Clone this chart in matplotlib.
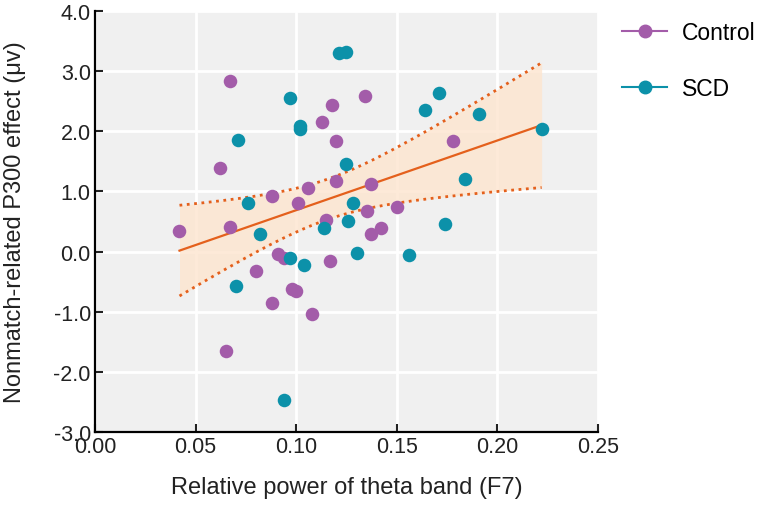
import numpy as np
import matplotlib.pyplot as plt
from matplotlib.lines import Line2D

# values
control_x = [0.042, 0.067, 0.062, 0.067, 0.088, 0.101, 0.106, 0.113, 0.118, 0.120,
             0.120, 0.115, 0.134, 0.178, 0.137, 0.135, 0.150, 0.142, 0.137, 0.117,
             0.091, 0.094, 0.080, 0.098, 0.100, 0.088, 0.108, 0.065]
control_y = [0.35, 2.84, 1.39, 0.41, 0.93, 0.81, 1.06, 2.16, 2.43, 1.84,
             1.17, 0.53, 2.58, 1.83, 1.13, 0.68, 0.74, 0.40, 0.30, -0.16,
             -0.04, -0.11, -0.32, -0.62, -0.66, -0.86, -1.03, -1.65]
scd_x = [0.1215, 0.125, 0.097, 0.102, 0.102, 0.071, 0.125, 0.076, 0.082, 0.114,
         0.128, 0.126, 0.130, 0.156, 0.171, 0.164, 0.191, 0.222, 0.184, 0.174,
         0.097, 0.104, 0.070, 0.094]
scd_y = [3.30, 3.31, 2.55, 2.09, 2.03, 1.85, 1.46, 0.81, 0.29, 0.39,
         0.80, 0.50, -0.02, -0.06, 2.64, 2.35, 2.29, 2.03, 1.21, 0.46,
         -0.10, -0.22, -0.58, -2.47]

xticks = [0.00, 0.05, 0.10, 0.15, 0.20, 0.25]
yticks = [-3.0, -2.0, -1.0, 0.0, 1.0, 2.0, 3.0, 4.0]

purple = '#a35ca9'
teal = '#0c91a9'
orange = '#e4601c'
text_col = '#222222'

# linear fit over both groups with 95% confidence band
x_all = np.array(control_x + scd_x)
y_all = np.array(control_y + scd_y)
n = len(x_all)
slope, intercept = np.polyfit(x_all, y_all, 1)
resid = y_all - (slope * x_all + intercept)
s_err = np.sqrt(np.sum(resid ** 2) / (n - 2))
xs = np.linspace(x_all.min(), x_all.max(), 200)
ys = slope * xs + intercept
t_val = 2.009  # t(0.975, n-2) for n=52
half = t_val * s_err * np.sqrt(1 / n + (xs - x_all.mean()) ** 2 / np.sum((x_all - x_all.mean()) ** 2))

plt.rcParams['font.family'] = ['Liberation Sans', 'DejaVu Sans']

fig = plt.figure(figsize=(7.68, 5.06), dpi=100)
ax = fig.add_axes([0.1237, 0.1443, 0.6549, 0.832])
ax.set_facecolor('#f0f0f0')

ax.fill_between(xs, ys - half, ys + half, color='#fde5cf', alpha=0.8, lw=0, zorder=1)
ax.plot(xs, ys + half, ':', color=orange, lw=2, zorder=2)
ax.plot(xs, ys - half, ':', color=orange, lw=2, zorder=2)
ax.plot(xs, ys, '-', color=orange, lw=1.6, zorder=2)

ax.scatter(control_x, control_y, s=95, color=purple, lw=0, zorder=3)
ax.scatter(scd_x, scd_y, s=95, color=teal, lw=0, zorder=3)

ax.set_xlim(0, 0.25)
ax.set_ylim(-3, 4)
ax.set_xticks(xticks)
ax.set_xticklabels(['%.2f' % v for v in xticks])
ax.set_yticks(yticks)
ax.set_yticklabels(['%.1f' % v for v in yticks])
ax.grid(True, color='white', lw=2)
ax.set_axisbelow(True)
for s in ['top', 'right']:
    ax.spines[s].set_visible(False)
for s in ['left', 'bottom']:
    ax.spines[s].set_linewidth(1.6)
ax.tick_params(direction='in', length=6, width=1.5, labelsize=15.5, colors=text_col)
ax.tick_params(axis='x', pad=3)
ax.tick_params(axis='y', pad=3)

ax.set_xlabel('Relative power of theta band (F7)', fontsize=17, color=text_col)
ax.xaxis.set_label_coords(0.5, -0.105)
ax.set_ylabel('Nonmatch-related P300 effect (\u03bcv)', fontsize=17, color=text_col)
ax.yaxis.set_label_coords(-0.137, 0.5)

handles = [Line2D([], [], color=purple, marker='o', markersize=9, lw=1.5),
           Line2D([], [], color=teal, marker='o', markersize=9, lw=1.5)]
fig.legend(handles, ['Control', 'SCD'], loc='upper left', bbox_to_anchor=(0.783, 0.998),
           frameon=False, fontsize=16.5, labelspacing=1.45, handlelength=1.97,
           handletextpad=0.65)

fig.savefig('out.png', dpi=100)
